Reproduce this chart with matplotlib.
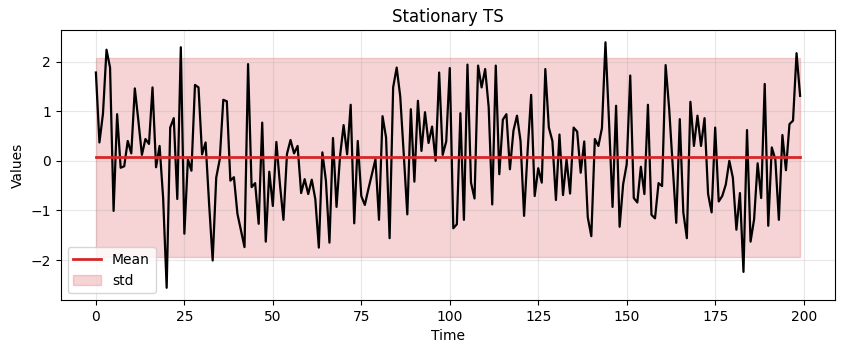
import numpy as np
import matplotlib
matplotlib.use("Agg")
import matplotlib.pyplot as plt

# values, one per time step
values = [
    1.78, 0.37, 0.95, 2.24, 1.88, -1.01, 0.94, -0.14, -0.11, 0.40,
    0.15, 1.46, 0.81, 0.12, 0.44, 0.34, 1.48, -0.13, 0.30, -0.75,
    -2.56, 0.67, 0.86, -0.77, 2.29, -1.47, 0.03, -0.20, 1.53, 1.48,
    0.13, 0.37, -0.88, -2.01, -0.34, 0.03, 1.23, 1.20, -0.40, -0.33,
    -1.07, -1.41, -1.74, 1.95, -0.53, -0.45, -1.27, 0.77, -1.63, -0.22,
    -0.91, 0.38, -0.47, -1.19, 0.14, 0.42, 0.15, 0.30, -0.65, -0.37,
    -0.67, -0.38, -0.77, -1.75, 0.17, -0.40, -1.65, 0.46, -0.93, 0.10,
    0.72, 0.13, 1.13, -1.26, 0.40, -0.71, -0.89, -0.57, -0.27, 0.03,
    -1.19, 0.90, 0.47, -1.56, 1.48, 1.88, 1.30, 0.13, -1.08, 1.04,
    -0.42, 1.21, 0.20, 0.98, 0.36, 0.69, 0.00, 1.78, 0.12, 0.39,
    1.87, -1.36, -1.28, 0.96, -1.19, 1.94, -0.44, -0.76, 1.92, 1.48,
    1.85, 1.08, -0.88, 1.92, -0.27, 0.83, 0.94, -0.17, 0.61, 0.91,
    0.40, -1.11, 0.20, 1.33, -0.71, -0.15, -0.44, 1.85, 0.67, 0.40,
    -0.79, 0.53, -0.69, 0.03, -0.66, 0.67, 0.59, -0.24, 0.39, -1.14,
    -1.52, 0.44, 0.30, 0.66, 2.39, 0.80, -0.93, 1.11, -1.33, -0.47,
    -0.07, 1.72, -0.75, -0.84, -0.12, -0.67, 1.13, -1.09, -1.16, -0.45,
    -0.51, 1.93, 1.05, -0.10, -1.25, 0.84, -1.04, -1.56, 1.19, 0.30,
    0.91, 0.30, 0.86, -0.67, -1.04, 0.67, -0.82, -0.71, -0.48, 0.00,
    -0.34, -1.39, -0.65, -2.24, 0.62, -1.63, -1.18, -0.05, -0.75, 1.55,
    -1.31, 0.27, 0.03, -1.19, 0.52, -0.19, 0.74, 0.81, 2.17, 1.31,
]
ts = np.array(values)
t = np.arange(len(ts))

mean = ts.mean()
std = 1.0

fig = plt.figure(figsize=(8.44, 3.53), dpi=100)
ax = fig.add_axes([0.0719, 0.150, 0.9178, 0.765])

ax.plot(t, ts, color="black", lw=1.6)
ax.plot(t, np.full(len(t), mean), color="tab:red", lw=2, label="Mean")
ax.fill_between(t, mean - 2 * std, mean + 2 * std, color="tab:red", alpha=0.2, label="std")

ax.set_title("Stationary TS")
ax.set_xlabel("Time")
ax.set_ylabel("Values")
ax.grid(alpha=0.3)
ax.legend(loc="lower left")

fig.savefig("out.png", dpi=100)
